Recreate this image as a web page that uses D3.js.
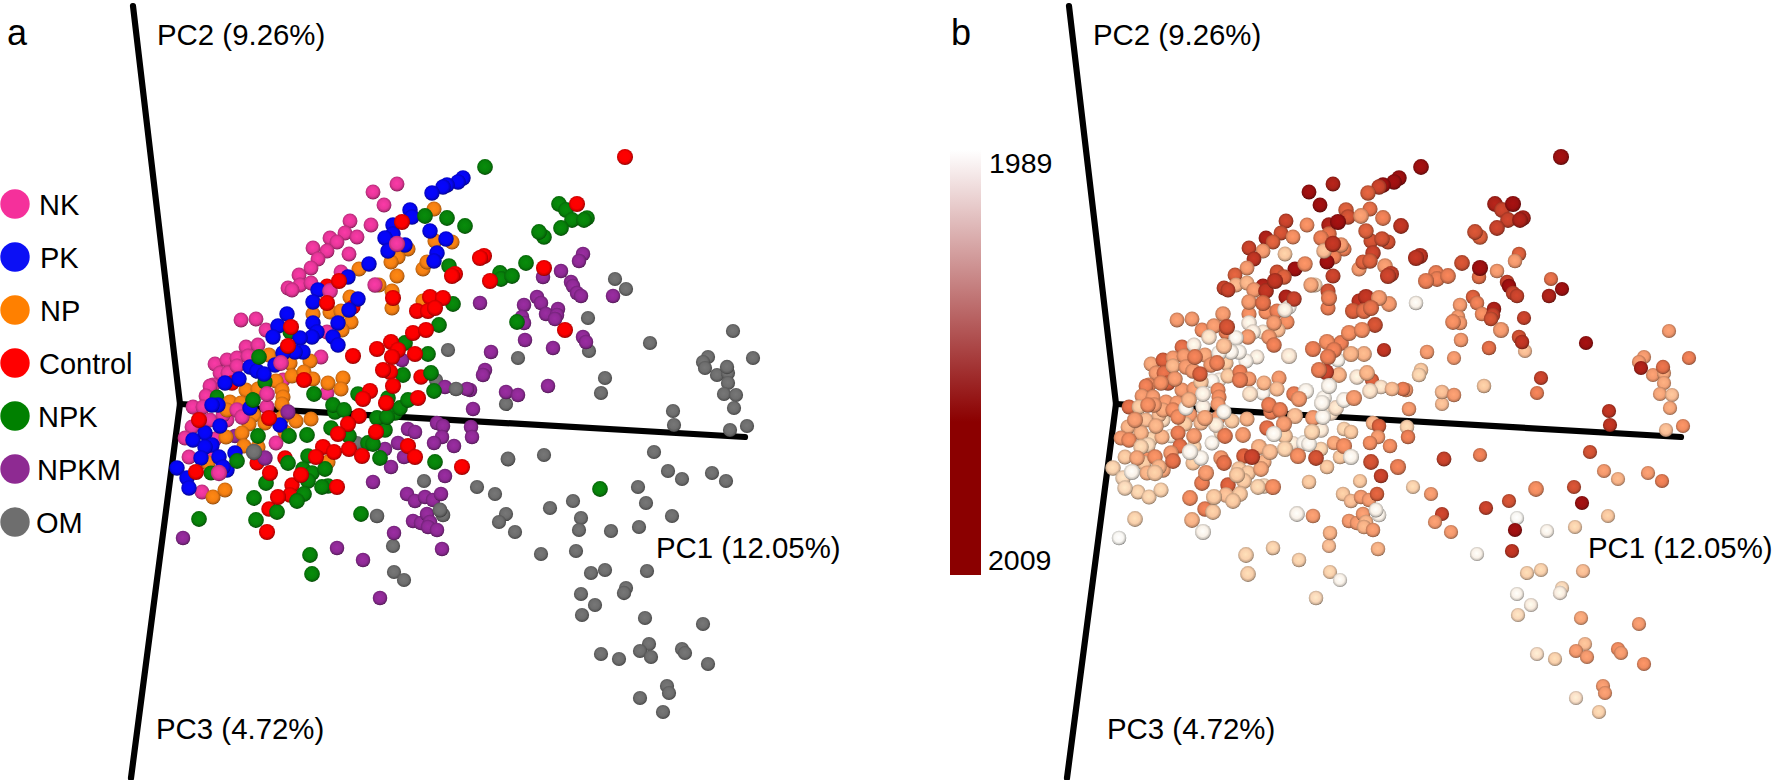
<!DOCTYPE html>
<html>
<head>
<meta charset="utf-8">
<script src="https://cdn.jsdelivr.net/npm/d3@7"></script>
<style>
  html, body { margin: 0; background: #fff; }
  svg { display: block; }
  text { font-family: "Liberation Sans", Arial, sans-serif; fill: #000; }
</style>
</head>
<body>
<svg id="chart" width="1776" height="780"></svg>
<script>
// sample scores: [pc1, pc2, year, depth (optional, nearer = larger)]
const NK = [
  [61,84,2000],[76,85,2000],[86,74,2001],[66,57,2003],[78,59,1991],[35,40,1999],[47,44,2004],[57,46,2000],
  [68,48,2000],[40,31,2000],[48,31,2003],[57,38,1998],[101,41,2002,6],[141,47,1991],[103,24,1991],[33,19,2001],
  [30,18,2002],[26,8,2000],[87,10,1991,6],[13,-3,2003],[23,-3,1996],[87,-3,1991,4.5],[57,-6,2001,4.5],[62,-13,2001,4.5],
  [30,-16,1997],[12,-23,1998],[5,-34,2000],[35,-35,1995],[96,-39,1990],[9,-53,1996],[32,-48,2001],[39,-69,1996,8],
  [22,-88,1995],[47,-16,1994],[147,11,1990],[43,-11,1997],[217,220,2008],[193,212,2009],[204,199,2009],[170,183,2006],
  [191,179,2001],[165,171,2005],[177,167,2001],[150,166,2008],[157,162,2004],[133,156,2006],[147,153,2000],[138,145,2007],
  [169,150,1996],[131,136,2000],[119,129,2004],[120,119,1998],[131,121,1998],[108,116,2006],[112,114,2006],[161,132,2005],
  [150,113,2007,6],[195,119,1999,4.5],[217,160,2007,8],[147,72,1992]
];
const PK = [
  [283,226,2009],[278,222,2009],[267,219,2009],[263,217,2006],[252,211,2004],[230,194,2004],[232,187,2005],[213,179,2008],
  [213,170,2003],[205,166,2002],[225,159,2000],[208,153,1997],[250,173,2004],[266,165,2005],[257,151,2006],[254,143,2004],
  [189,140,2001],[168,127,2004],[138,114,2000],[133,102,2000],[178,105,2006],[169,94,1991],[158,81,2000],[107,90,2000],
  [98,78,2000],[93,67,1993],[133,81,1991],[137,72,1991],[132,67,2000],[153,67,2000],[158,59,2002],[120,66,1990],
  [123,52,1990],[115,52,1990],[103,51,1990],[95,39,2000],[70,37,2000],[77,33,2000],[84,30,2004],[59,25,2000],
  [45,21,2001],[38,-1,2000],[32,-1,2001],[40,-22,1998],[25,-29,1998],[13,-36,2001],[32,-41,1994],[25,-43,1995],
  [39,-53,2001],[21,-54,1999],[55,-49,2000],[47,-66,1999],[-3,-64,1995],[7,-74,1994],[9,-84,1994],[100,-21,1992],
  [70,-4,1990],[43,-63,1998]
];
const NP = [
  [254,195,2003],[255,163,2005],[272,162,2005],[228,155,2002],[218,147,2002],[211,142,2009],[217,128,2006],[243,135,2000],
  [247,142,2004],[179,135,2009],[199,119,1994],[212,113,2005],[212,96,2002],[243,103,2007],[170,107,2008],[133,90,2001],
  [150,92,2001],[161,93,2002],[171,82,2001],[162,74,1997],[89,49,1999],[110,41,1996],[112,28,1996],[96,23,1990],
  [130,43,1990],[124,32,2002],[133,25,2000],[163,26,2000],[148,21,1998],[161,15,1997],[102,14,2001],[103,7,2001],
  [102,0,2000],[66,14,2000],[78,15,2000],[50,2,2000],[61,1,2000],[74,-11,2000],[85,-19,1997],[69,-20,1996],
  [102,-14,2000],[116,-17,1996],[131,-15,1998],[105,-28,1993],[62,-29,2002],[46,-33,1998],[64,-42,2003],[78,-43,1995],
  [33,-93,1995],[45,-86,1995],[28,-59,1996],[47,-6,1999],[148,-58,1998]
];
const Control = [
  [445,247,2009],[397,200,2009],[300,146,2007,7.2],[304,148,2007],[310,123,2002],[364,136,2009],[385,74,2000],
  [272,128,2006,7.2],[275,130,2006],[222,182,2009],[159,123,2007],[147,118,2008,4],[147,101,2003],[213,106,2002],
  [250,107,2007],[263,106,2000],[237,93,2004],[248,93,2003],[255,96,2003],[233,71,2001],[246,74,2001],[197,55,2002],
  [211,62,2001],[218,54,2002],[235,50,1998],[173,48,1992],[212,47,2002],[111,77,2005],[108,58,1997],[173,97,1990,4],
  [210,32,2006],[203,34,2002],[241,27,1992,5],[213,18,1990],[190,13,1990],[183,5,2000],[238,6,2000],[206,1,1990],
  [179,-12,1997],[168,-20,2000],[158,-30,1990],[196,-28,1995],[143,-43,1998],[154,-48,1997],[136,-53,2006],[169,-45,1995],
  [182,-52,2001],[228,-42,2001],[235,-53,1990],[282,-63,2002],[157,-83,2001],[121,-71,1996],[112,-81,2004,5],[98,-93,1996],
  [110,-91,1997,5.5],[89,-105,2002,5],[87,-128,1990],[90,-69,2000],[105,-54,2000,5],[77,-59,1996,4],[89,-14,1999],
  [124,24,2002],[16,-68,1990],[19,-16,2000],[52,21,2004,4.8]
];
const NPK = [
  [305,237,2009],[379,200,2008],[386,194,2006],[392,184,2006],[404,184,2008],[407,186,2008,5.8],[381,176,2006],[359,172,2005],
  [364,167,2004,5.8],[346,141,2005],[320,131,2002],[321,125,2002],[332,128,2002],[337,82,2001],[285,178,2007],[134,10,1993],
  [153,-1,2002],[164,-6,2002],[155,-8,2002,5.5],[151,-24,2003,5.5],[169,-32,1996,5.5],[127,-31,2000],[109,-32,2002],[78,-32,2000],
  [178,10,2002,5.5],[208,6,1990,5.5],[197,-14,2000],[207,-13,1990],[205,-26,1992,5.5],[220,-4,1993],[215,-9,1993,5.8],[228,4,1990],
  [188,-39,1990],[193,-40,1990],[200,-54,2005],[223,29,1998],[251,31,1998],[254,13,1993],[248,50,1998],[73,4,1998],
  [79,47,2002],[57,-57,2003],[108,-59,2003],[128,-52,2004,5.5],[145,-65,1999],[123,-65,1996,5.5],[132,-69,1996,5.5],[128,-77,1996],
  [142,-83,1995],[148,-82,1994,5.5],[124,-90,1996],[117,-97,1996],[97,-108,1996],[86,-79,2002],[74,-94,2001],[76,-116,1998],
  [19,-115,1995],[130,-151,1995],[132,-170,1995],[181,-110,1990],[255,-58,2005],[420,-85,2001],[31,-69,1998,4],[85,22,1996,4.5],
  [245,188,2000],[267,186,2002],[269,138,2000,5.5],[273,100,2000],[259,79,2005],[225,61,2002],[110,72,2002,4],[37,7,2000,3]
];
const NPKM = [
  [403,150,2004],[399,143,2000],[363,127,2003],[381,133,2000],[391,122,2006],[393,118,2009],[397,111,2006],[401,108,2006],
  [433,108,2008],[357,107,2004],[361,101,2002],[344,99,2000],[300,101,1990],[366,90,2001],[378,95,2008],[377,89,2006],
  [375,85,2005],[342,87,2000],[344,81,2000],[345,64,2000],[373,56,2003],[403,67,2005],[406,62,2007],[311,52,2000],
  [305,34,1996],[303,29,1995],[326,12,1997],[338,9,2000],[368,18,1996],[290,14,2000],[293,-5,2000],[291,-23,1995],
  [292,-33,2002],[222,44,1990],[265,17,1993],[287,15,2002],[257,-19,1998],[263,-22,2004],[228,-25,1995],[235,-28,1996],
  [262,-33,2000],[254,-39,2001],[274,-42,2001],[218,-39,1999],[205,-45,1995],[224,-53,1996],[211,-63,1996],[265,-72,2006],
  [193,-78,1996],[227,-90,1996],[235,-97,1997],[245,-93,2000],[253,-96,2000],[261,-90,2004],[233,-117,2000],[241,-119,2000],
  [247,-110,2000],[250,-118,1998],[248,-123,1998],[257,-126,2000],[262,-145,1998],[214,-129,1998],[157,-144,1995],[183,-156,1995],
  [200,-194,1994],[3,-134,1989],[85,-54,1990,5],[108,-8,1990,4.5],[55,-32,1991]
];
const OM = [
  [435,125,2003],[446,115,2009],[408,86,2006],[338,46,2000],[409,53,1997],[470,61,2009],[425,26,2006],[421,11,2002],
  [326,0,1997],[493,-7,2007],[494,-21,2007],[553,73,2000],[573,46,2002],[528,47,2000],[523,42,2000],[525,36,2008],
  [537,29,2000],[547,37,2003,1.5],[548,31,1999],[548,21,1999],[544,10,1999],[556,9,1997],[554,-4,1999],[567,-22,2001],
  [550,-26,1997],[474,-48,2005],[488,-67,2000],[502,-75,1998],[532,-69,2000],[546,-77,2002],[458,-83,2005],[466,-99,2009],
  [492,-112,1996],[459,-123,1995],[431,-127,1990],[401,-114,1989],[399,-126,2009],[393,-97,2005],[370,-104,2006],[364,-51,2002],
  [328,-55,2006,3],[297,-83,1995],[315,-90,2000],[326,-110,2006],[319,-118,2000],[335,-128,2000],[361,-150,1990],[396,-147,2007],
  [411,-169,1995],[425,-166,1995],[467,-167,1997],[401,-190,1990],[446,-184,1994],[444,-189,1991,1.5],[415,-201,1991],[402,-211,1994],
  [465,-214,1999],[523,-220,2000],[469,-240,1997],[460,-247,2000],[471,-253,2000],[421,-250,1993],[439,-255,1995],[502,-245,2001],
  [505,-249,2000],[528,-260,2001],[487,-282,2000],[489,-289,2000],[460,-294,1993],[483,-308,1995],[244,-77,1996],[260,-106,1990,3],
  [263,-111,1990,2.5],[214,-168,1995],[224,-176,1990],[268,54,2007],[256,24,2004],[276,15,1997,2.5],[177,-39,1992],[197,-112,2000,2.5],
  [213,-142,1997],[74,-48,1990,8]
];

const treatments = ["NK", "PK", "NP", "Control", "NPK", "NPKM", "OM"];
const treatmentColors = ["#e8369a", "#0505f5", "#f57f12", "#fb0000", "#07820a", "#8f2a96", "#6e6e6e"];
const legendColors = ["#f5309b", "#0c10f5", "#ff8000", "#ff0000", "#008000", "#8e2a92", "#6e6e6e"];
const treatmentDepth = [3, 5, 4, 7, 6, 2, 1];
const treatmentRows = [NK, PK, NP, Control, NPK, NPKM, OM];
const legendLabelX = [39, 40, 40, 39, 38, 37, 36];

const yearStops = [1989, 1992, 1995, 1998, 2001, 2004, 2007, 2009];
const yearColors = ["#f8f6f2", "#fae6d4", "#f9d0ac", "#f7b186", "#f08c60", "#d85f3c", "#bb3422", "#9b1010"];
const colorbarStops = [[0, "#ffffff"], [0.64, "#8b0000"], [1, "#8b0000"]];

// axis tips in score units, the origin is [0, 0]
const axisTips = [[-47, 398], [-49, -374], [565, -33]];

const svg = d3.select("#chart");
const defs = svg.append("defs");

const yearColor = d3.scaleLinear().domain(yearStops).range(yearColors);
const depthRadius = d3.scaleLinear().domain([1, 8]).range([7.1, 8.2]);

function sphereGradient(id, base) {
  const c = d3.color(base);
  const grad = defs.append("radialGradient").attr("id", id)
    .attr("cx", "48%").attr("cy", "46%").attr("r", "54%");
  const stops = [
    [0, c.brighter(0.22)],
    [0.6, c],
    [0.85, c.darker(0.6)],
    [1, c.darker(1.9)]
  ];
  grad.selectAll("stop").data(stops).join("stop")
    .attr("offset", d => d[0])
    .attr("stop-color", d => d[1].formatRgb());
}

treatments.forEach((t, i) => sphereGradient(`sphere-${t}`, treatmentColors[i]));
d3.range(1989, 2010).forEach(y => sphereGradient(`sphere-${y}`, yearColor(y)));

// flat list, farthest first, so overlaps come out the same in both panels
const samples = [];
treatmentRows.forEach((rows, i) => {
  rows.forEach(r => samples.push({
    treatment: treatments[i],
    pc1: r[0],
    pc2: r[1],
    year: r[2],
    depth: r[3] === undefined ? treatmentDepth[i] : r[3]
  }));
});
const ordered = d3.sort(samples, d => d.depth);

function drawPanel(offsetX, fillOf) {
  const x = d3.scaleLinear().domain([0, 600]).range([180 + offsetX, 780 + offsetX]);
  const y = d3.scaleLinear().domain([0, 400]).range([404, 4]);
  const g = svg.append("g");

  g.selectAll("path.axis").data(axisTips).join("path")
    .attr("class", "axis")
    .attr("d", d => d3.line().x(p => x(p[0])).y(p => y(p[1]))([[0, 0], d]))
    .attr("fill", "none")
    .attr("stroke", "#000")
    .attr("stroke-width", 6.2)
    .attr("stroke-linecap", "round");

  g.selectAll("circle").data(ordered).join("circle")
    .attr("cx", d => x(d.pc1))
    .attr("cy", d => y(d.pc2))
    .attr("r", d => depthRadius(d.depth))
    .attr("fill", fillOf);
}

drawPanel(0, d => `url(#sphere-${d.treatment})`);
drawPanel(936, d => `url(#sphere-${d.year})`);

// legend
const legendY = d3.scalePoint().domain(treatments).range([204, 522]);
const legend = svg.append("g").selectAll("g").data(treatments).join("g");
legend.append("circle")
  .attr("cx", 15)
  .attr("cy", d => legendY(d))
  .attr("r", 14.7)
  .attr("fill", (d, i) => legendColors[i]);
legend.append("text")
  .attr("x", (d, i) => legendLabelX[i])
  .attr("y", d => legendY(d) + 11)
  .attr("font-size", 29)
  .text(d => d);

// colour bar
const barGrad = defs.append("linearGradient").attr("id", "bar")
  .attr("x1", 0).attr("x2", 0).attr("y1", 0).attr("y2", 1);
barGrad.selectAll("stop").data(colorbarStops).join("stop")
  .attr("offset", d => d[0])
  .attr("stop-color", d => d[1]);
svg.append("rect")
  .attr("x", 950).attr("y", 150)
  .attr("width", 31).attr("height", 425)
  .attr("fill", "url(#bar)");

const labels = [
  ["a", 7, 45, 36], ["b", 951, 45, 36],
  ["1989", 989, 173, 28.5], ["2009", 988, 570, 28.5],
  ["PC2 (9.26%)", 157, 45, 29.4], ["PC1 (12.05%)", 656, 558, 29.4], ["PC3 (4.72%)", 156, 739, 29.4],
  ["PC2 (9.26%)", 1093, 45, 29.4], ["PC1 (12.05%)", 1588, 558, 29.4], ["PC3 (4.72%)", 1107, 739, 29.4]
];
svg.append("g").selectAll("text").data(labels).join("text")
  .attr("x", d => d[1])
  .attr("y", d => d[2])
  .attr("font-size", d => d[3])
  .text(d => d[0]);
</script>
</body>
</html>
